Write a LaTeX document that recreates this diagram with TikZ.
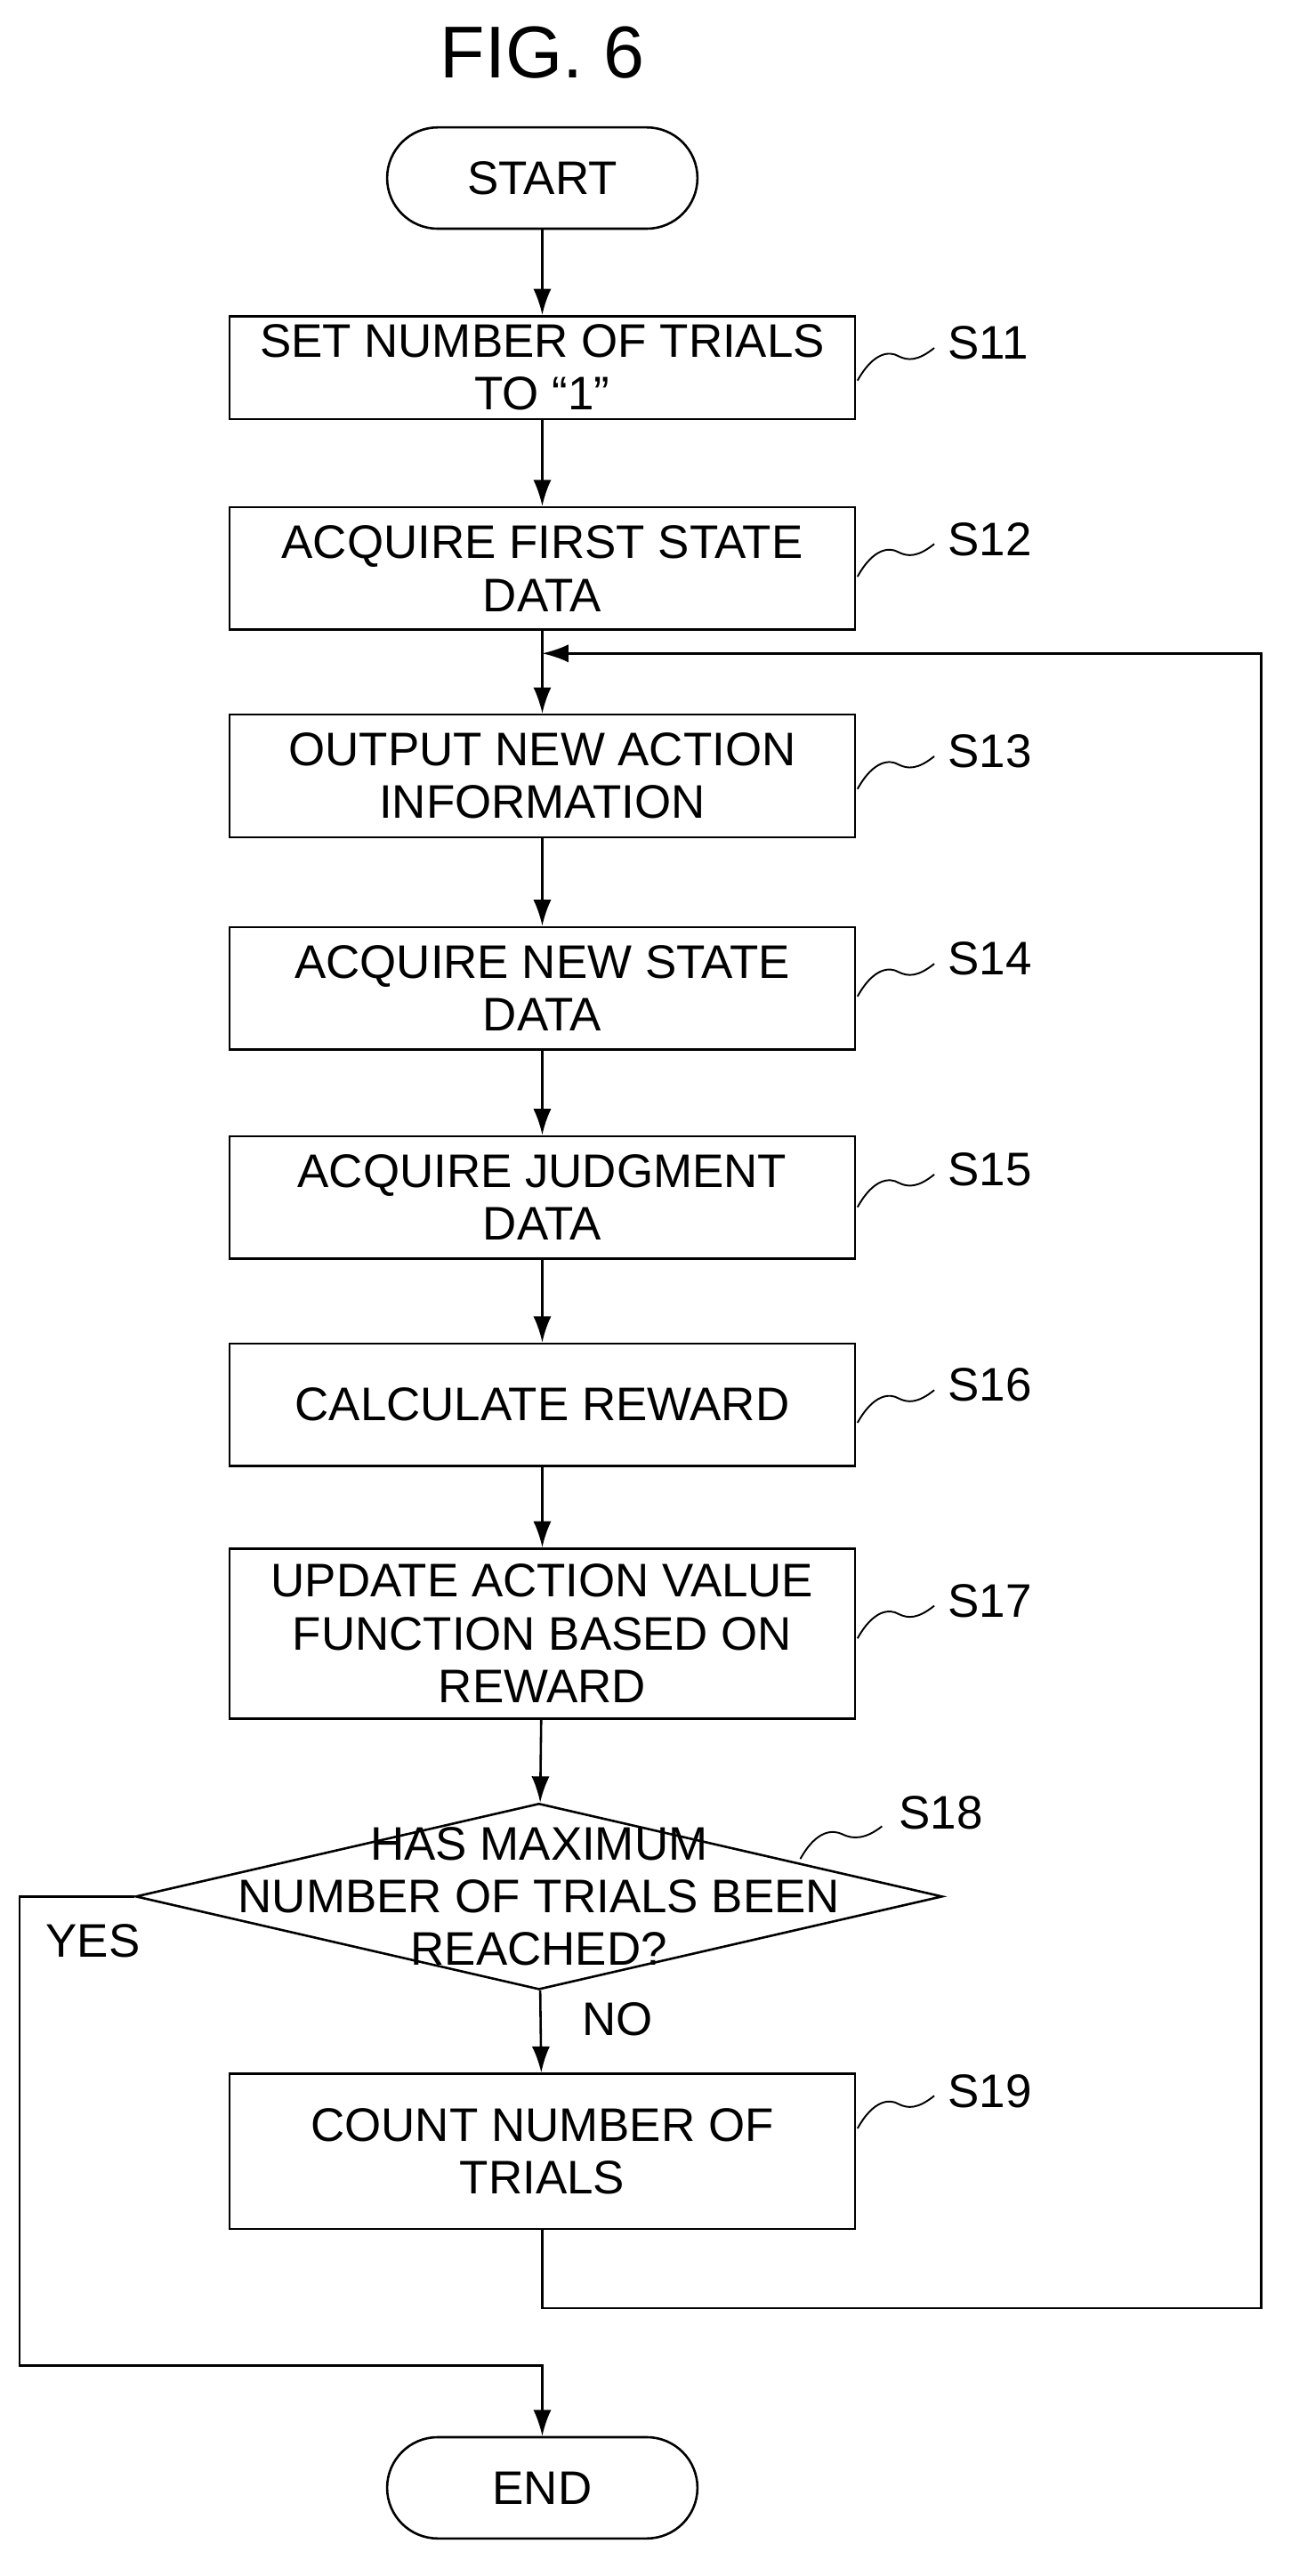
\documentclass[tikz,border=0pt]{standalone}
\usepackage{fontspec}
\setmainfont{Liberation Sans}
\usetikzlibrary{shapes.geometric,arrows.meta}
\tikzset{
  proc/.style={draw,line width=2pt,minimum width=19.15cm,align=center,
    font=\fontsize{41}{46}\selectfont},
  term/.style={draw,line width=2pt,rounded corners=1.55cm,minimum width=9.5cm,
    minimum height=3.1cm,font=\fontsize{41}{46}\selectfont},
  flow/.style={line width=2pt,-{Latex[length=0.8cm,width=0.55cm]}},
  lbl/.style={font=\fontsize{41}{46}\selectfont},
}
\begin{document}
\begin{tikzpicture}[x=0.05cm,y=-0.05cm]
\useasboundingbox (0,0) rectangle (790,1577);
\node[font=\fontsize{64}{70}\selectfont] (fig) at (332,32) {FIG. 6};
\node[term] (start) at (332,109) {START};
\node[proc,minimum height=3.15cm] (s11) at (332,225) {SET NUMBER OF TRIALS\\TO “1”};
\node[proc,minimum height=3.75cm] (s12) at (332,348) {ACQUIRE FIRST STATE\\DATA};
\node[proc,minimum height=3.75cm] (s13) at (332,475) {OUTPUT NEW ACTION\\INFORMATION};
\node[proc,minimum height=3.75cm] (s14) at (332,605) {ACQUIRE NEW STATE\\DATA};
\node[proc,minimum height=3.75cm] (s15) at (332,733) {ACQUIRE JUDGMENT\\DATA};
\node[proc,minimum height=3.75cm] (s16) at (332,860) {CALCULATE REWARD};
\node[proc,minimum height=5.2cm] (s17) at (332,1000) {UPDATE ACTION VALUE\\FUNCTION BASED ON\\REWARD};
\node[diamond,draw,line width=2pt,minimum width=24.7cm,minimum height=5.7cm,
  inner sep=0pt] (s18) at (330,1161) {};
\node[lbl,align=center] (s18txt) at (s18.center) {HAS MAXIMUM\\NUMBER OF TRIALS BEEN\\REACHED?};
\node[proc,minimum height=4.75cm] (s19) at (332,1317) {COUNT NUMBER OF\\TRIALS};
\node[term] (end) at (332,1523) {END};
% step labels
\foreach \t/\y in {S11/210,S12/330,S13/460,S14/587,S15/716,S16/848,S17/980,S19/1280}{
  \draw[line width=1.5pt] (525,\y+23) .. controls (535,\y+5) and (545,\y+5) .. (550,\y+8)
    .. controls (556,\y+11) and (562,\y+11) .. (572,\y+3);
  \node[lbl,anchor=west] at (578,\y) {\t};
}
\draw[line width=1.5pt] (490,1138) .. controls (500,1120) and (510,1120) .. (516,1123)
  .. controls (522,1126) and (530,1126) .. (540,1118);
\node[lbl,anchor=west] at (548,1110) {S18};
% connectors
\draw[flow] (start) -- (s11);
\draw[flow] (s11) -- (s12);
\draw[flow] (s12) -- (s13);
\draw[flow] (s13) -- (s14);
\draw[flow] (s14) -- (s15);
\draw[flow] (s15) -- (s16);
\draw[flow] (s16) -- (s17);
\draw[flow] (s17) -- (s18);
\draw[flow] (s18) -- (s19);
\node[lbl] at (378,1236) {NO};
\coordinate (back) at (332,400);
\draw[flow] (s19.south) |- (772,1413) |- (back);
\draw[flow] (s18.west) -| (12,1448) -| (end.north);
\node[lbl] at (57,1188) {YES};
\end{tikzpicture}
\end{document}
